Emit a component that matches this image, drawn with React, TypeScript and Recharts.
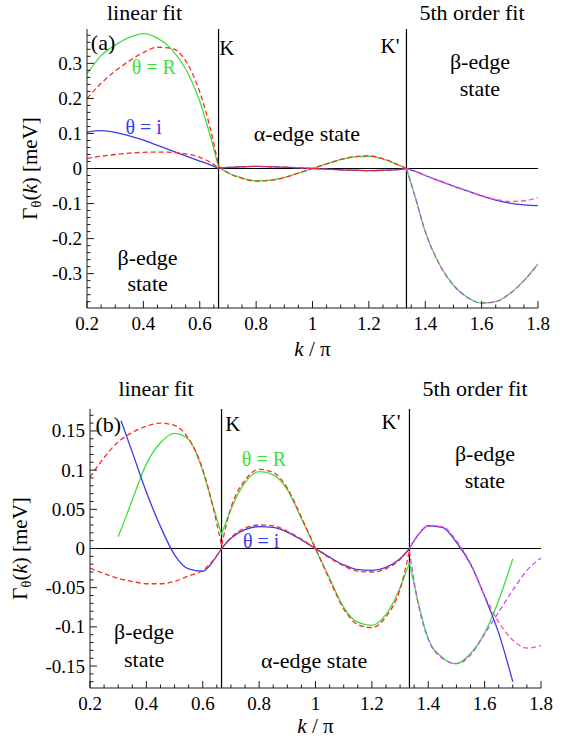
import React from 'react';
import { LineChart, Line, XAxis, YAxis, ReferenceLine, ReferenceDot } from 'recharts';

const FONT = '"Liberation Serif", "Times New Roman", "DejaVu Serif", serif';
const GREEN = '#3fe03f';
const BLUE = '#3b3bea';
const RED = '#ff2b2b';
const VIOLET = '#c84cf5';
const PINK = '#ff4fc4';
const FRAME = '#1a1a1a';

const K_POS = 2 / 3;
const KP_POS = 4 / 3;
const K_PT = 0.6667;
const KP_PT = 1.3333;

// tick labels
const xMajorTicks = [0.2, 0.4, 0.6, 0.8, 1, 1.2, 1.4, 1.6, 1.8];
const xMinorStep = 0.05;
const aYMajorTicks = [-0.3, -0.2, -0.1, 0, 0.1, 0.2, 0.3];
const aYMinorStep = 0.02;
const aYDomain: [number, number] = [-0.398, 0.398];
const bYMajorTicks = [-0.15, -0.1, -0.05, 0, 0.05, 0.1, 0.15];
const bYMinorStep = 0.01;
const bYDomain: [number, number] = [-0.178, 0.178];

// panel (a)
const kA = [0.2, 0.25, 0.3, 0.35, 0.4, 0.45, 0.5, 0.55, 0.6, 0.635, 0.6667, 0.7, 0.75, 0.8, 0.85, 0.9, 0.95, 1.0, 1.05, 1.1, 1.15, 1.2, 1.25, 1.3, 1.3333, 1.365, 1.4, 1.45, 1.5, 1.55, 1.6, 1.65, 1.7, 1.75, 1.8];
const aExactR = [0.270, 0.322, 0.352, 0.374, 0.385, 0.372, 0.340, 0.284, 0.192, 0.100, 0.004, -0.012, -0.027, -0.035, -0.033, -0.025, -0.013, 0, 0.013, 0.025, 0.033, 0.035, 0.027, 0.012, 0, -0.083, -0.180, -0.273, -0.333, -0.368, -0.384, -0.380, -0.357, -0.320, -0.272];
const aFitR = [0.200, 0.243, 0.278, 0.307, 0.331, 0.346, 0.343, 0.307, 0.218, 0.122, 0.008, -0.012, -0.028, -0.036, -0.034, -0.026, -0.013, 0, 0.013, 0.026, 0.034, 0.036, 0.028, 0.012, 0, -0.083, -0.180, -0.273, -0.333, -0.368, -0.384, -0.380, -0.357, -0.320, -0.273];
const aExactI = [0.104, 0.108, 0.103, 0.093, 0.081, 0.066, 0.051, 0.036, 0.021, 0.011, 0, 0.003, 0.005, 0.006, 0.005, 0.004, 0.002, 0, -0.002, -0.004, -0.005, -0.006, -0.005, -0.003, 0, -0.008, -0.020, -0.035, -0.050, -0.064, -0.078, -0.090, -0.099, -0.104, -0.106];
const aFitI = [0.029, 0.035, 0.040, 0.044, 0.046, 0.047, 0.046, 0.042, 0.032, 0.019, 0.002, 0.003, 0.005, 0.006, 0.005, 0.004, 0.002, 0, -0.002, -0.004, -0.005, -0.006, -0.005, -0.003, 0, -0.008, -0.020, -0.035, -0.050, -0.064, -0.077, -0.088, -0.094, -0.092, -0.084];

// panel (b)
const kB = [0.2, 0.25, 0.3, 0.31, 0.35, 0.4, 0.45, 0.5, 0.55, 0.6, 0.635, 0.6667, 0.7, 0.75, 0.8, 0.85, 0.9, 0.95, 1.0, 1.05, 1.1, 1.15, 1.2, 1.25, 1.3, 1.3333, 1.365, 1.4, 1.45, 1.5, 1.55, 1.6, 1.65, 1.7, 1.75, 1.8];
const bExactR = [null, null, 0.015, 0.024, 0.062, 0.108, 0.135, 0.147, 0.139, 0.099, 0.056, 0.018, 0.050, 0.084, 0.098, 0.094, 0.075, 0.038, 0, -0.038, -0.075, -0.094, -0.098, -0.084, -0.050, -0.018, -0.070, -0.115, -0.139, -0.147, -0.134, -0.108, -0.066, -0.013, null, null];
const bFitR = [0.091, 0.116, 0.136, 0.139, 0.148, 0.156, 0.160, 0.157, 0.140, 0.101, 0.055, 0.004, 0.052, 0.087, 0.101, 0.097, 0.077, 0.040, 0, -0.040, -0.077, -0.097, -0.101, -0.087, -0.052, -0.003, -0.072, -0.116, -0.140, -0.147, -0.136, -0.109, -0.081, -0.053, -0.028, -0.012];
const bExactI = [null, null, null, 0.163, 0.123, 0.072, 0.028, -0.008, -0.026, -0.029, -0.017, 0, 0.013, 0.024, 0.028, 0.027, 0.021, 0.011, 0, -0.011, -0.021, -0.027, -0.028, -0.024, -0.013, 0, 0.018, 0.029, 0.027, 0.008, -0.020, -0.061, -0.108, -0.170, null, null];
const bFitI = [-0.025, -0.032, -0.038, -0.039, -0.042, -0.045, -0.045, -0.042, -0.035, -0.028, -0.016, 0, 0.014, 0.026, 0.030, 0.029, 0.022, 0.012, 0, -0.012, -0.022, -0.029, -0.030, -0.026, -0.014, 0, 0.017, 0.029, 0.028, 0.010, -0.019, -0.060, -0.094, -0.117, -0.127, -0.124];

type Series = (number | null)[];
type Note = { k: number; v: number; text: string; color: string; size: number };

const notesA: Note[] = [
  { k: 0.404, v: 0.446, text: 'linear fit', color: '#000', size: 22 },
  { k: 1.566, v: 0.446, text: '5th order fit', color: '#000', size: 22 },
  { k: 0.257, v: 0.361, text: '(a)', color: '#000', size: 22 },
  { k: 0.696, v: 0.346, text: 'K', color: '#000', size: 21 },
  { k: 1.275, v: 0.352, text: "K'", color: '#000', size: 21 },
  { k: 0.437, v: 0.289, text: 'θ = R', color: GREEN, size: 20 },
  { k: 0.401, v: 0.118, text: 'θ = i', color: BLUE, size: 20 },
  { k: 0.98, v: 0.1, text: 'α-edge state', color: '#000', size: 22 },
  { k: 1.594, v: 0.305, text: 'β-edge', color: '#000', size: 22 },
  { k: 1.594, v: 0.229, text: 'state', color: '#000', size: 22 },
  { k: 0.415, v: -0.252, text: 'β-edge', color: '#000', size: 22 },
  { k: 0.415, v: -0.328, text: 'state', color: '#000', size: 22 },
];

const notesB: Note[] = [
  { k: 0.434, v: 0.204, text: 'linear fit', color: '#000', size: 22 },
  { k: 1.566, v: 0.204, text: '5th order fit', color: '#000', size: 22 },
  { k: 0.265, v: 0.159, text: '(b)', color: '#000', size: 22 },
  { k: 0.707, v: 0.16, text: 'K', color: '#000', size: 21 },
  { k: 1.268, v: 0.162, text: "K'", color: '#000', size: 21 },
  { k: 0.817, v: 0.114, text: 'θ = R', color: GREEN, size: 20 },
  { k: 0.807, v: 0.01, text: 'θ = i', color: BLUE, size: 20 },
  { k: 1.601, v: 0.121, text: 'β-edge', color: '#000', size: 22 },
  { k: 1.601, v: 0.087, text: 'state', color: '#000', size: 22 },
  { k: 0.995, v: -0.143, text: 'α-edge state', color: '#000', size: 22 },
  { k: 0.392, v: -0.105, text: 'β-edge', color: '#000', size: 22 },
  { k: 0.392, v: -0.141, text: 'state', color: '#000', size: 22 },
];

function seg(ks: number[], vs: Series, from: number, to: number) {
  const out: { k: number; v: number }[] = [];
  for (let i = 0; i < ks.length; i++) {
    const v = vs[i];
    if (v !== null && v !== undefined && ks[i] >= from - 1e-9 && ks[i] <= to + 1e-9) out.push({ k: ks[i], v });
  }
  return out;
}

function makeTicks(lo: number, hi: number, step: number): number[] {
  const out: number[] = [];
  const i0 = Math.ceil(lo / step - 1e-6);
  const i1 = Math.floor(hi / step + 1e-6);
  for (let i = i0; i <= i1; i++) out.push(Number((i * step).toFixed(4)));
  return out;
}

const fmt = (v: number) => String(Number(v.toFixed(3)));
const textStyle = { fontFamily: FONT };

function tickFn(side: 'bottom' | 'top' | 'left' | 'right', majors: number[], labelled: boolean) {
  return (props: any) => {
    const { x, y, payload } = props;
    const v: number = payload.value;
    const major = majors.some((m) => Math.abs(m - v) < 1e-6);
    const len = major ? 7 : 3.5;
    let x2 = x;
    let y2 = y;
    if (side === 'bottom') y2 = y - len;
    else if (side === 'top') y2 = y + len;
    else if (side === 'left') x2 = x + len;
    else x2 = x - len;
    let text: any = null;
    if (labelled && major) {
      if (side === 'bottom')
        text = (
          <text x={x} y={y + 22} textAnchor="middle" style={{ ...textStyle, fontSize: 19 }} fill="#000">
            {fmt(v)}
          </text>
        );
      else if (side === 'left')
        text = (
          <text x={x - 5} y={y + 6.5} textAnchor="end" style={{ ...textStyle, fontSize: 19 }} fill="#000">
            {fmt(v)}
          </text>
        );
    }
    return (
      <g>
        <line x1={x} y1={y} x2={x2} y2={y2} stroke={FRAME} strokeWidth={1} />
        {text}
      </g>
    );
  };
}

const yLabel = (x0: number) => (p: any) => {
  const vb = p.viewBox || {};
  const cx = (vb.x || 0) + x0;
  const cy = vb.y + vb.height / 2;
  return (
    <text x={cx} y={cy} dy={7} transform={`rotate(-90 ${cx} ${cy})`} textAnchor="middle" style={{ ...textStyle, fontSize: 21 }} fill="#000">
      Γ<tspan style={{ fontSize: 15 }} dy={4}>θ</tspan>
      <tspan dy={-4}>(</tspan>
      <tspan style={{ fontStyle: 'italic' }}>k</tspan>
      <tspan>{') [meV]'}</tspan>
    </text>
  );
};

const xLabel = (dy: number) => (p: any) => {
  const vb = p.viewBox || {};
  const cx = vb.x + vb.width / 2;
  return (
    <text x={cx} y={vb.y + dy} textAnchor="middle" style={{ ...textStyle, fontSize: 21 }} fill="#000">
      <tspan style={{ fontStyle: 'italic' }}>k</tspan>
      <tspan>{' / π'}</tspan>
    </text>
  );
};

type PanelCfg = {
  id: string;
  height: number;
  top: number;
  right: number;
  yWidth: number;
  xHeight: number;
  yDomain: [number, number];
  yMajors: number[];
  yMinorStep: number;
  ks: number[];
  exactR: Series;
  fitR: Series;
  exactI: Series;
  fitI: Series;
  notes: Note[];
  yLabelX: number;
  xLabelDy: number;
};

function renderLines(c: PanelCfg) {
  const parts: [number, number][] = [
    [0.2, K_PT],
    [K_PT, KP_PT],
    [KP_PT, 1.8],
  ];
  const els: any[] = [];
  const common = { dataKey: 'v', type: 'monotone' as const, dot: false, activeDot: false, isAnimationActive: false, strokeWidth: 1.3 };
  parts.forEach(([a, b], j) => {
    const g = seg(c.ks, c.exactR, a, b);
    if (g.length > 1) els.push(<Line key={`${c.id}gR${j}`} data={g} stroke={GREEN} {...common} />);
    const bl = seg(c.ks, c.exactI, a, b);
    if (bl.length > 1) els.push(<Line key={`${c.id}gI${j}`} data={bl} stroke={BLUE} {...common} />);
  });
  parts.forEach(([a, b], j) => {
    const fr = seg(c.ks, c.fitR, a, b);
    els.push(<Line key={`${c.id}fR${j}`} data={fr} stroke={j < 2 ? RED : VIOLET} strokeDasharray="5 3" {...common} />);
    const fi = seg(c.ks, c.fitI, a, b);
    els.push(<Line key={`${c.id}fI${j}`} data={fi} stroke={j < 2 ? RED : PINK} strokeDasharray="5 3" {...common} />);
  });
  return els;
}

function renderPanel(c: PanelCfg) {
  const xTicks = makeTicks(0.2, 1.8, xMinorStep);
  const yTicks = makeTicks(c.yDomain[0], c.yDomain[1], c.yMinorStep);
  const axisLine = { stroke: FRAME, strokeWidth: 1 };
  return (
    <LineChart width={572} height={c.height} margin={{ top: c.top, right: c.right, bottom: 0, left: 0 }} style={{ fontFamily: FONT }}>
      <XAxis
        xAxisId={0}
        dataKey="k"
        type="number"
        domain={[0.2, 1.8]}
        allowDataOverflow
        ticks={xTicks}
        interval={0}
        tickSize={0}
        tickMargin={0}
        tickLine={false}
        axisLine={axisLine}
        tick={tickFn('bottom', xMajorTicks, true)}
        height={c.xHeight}
        label={xLabel(c.xLabelDy)}
      />
      <XAxis
        xAxisId="top"
        orientation="top"
        dataKey="k"
        type="number"
        domain={[0.2, 1.8]}
        allowDataOverflow
        ticks={xTicks}
        interval={0}
        tickSize={0}
        tickMargin={0}
        tickLine={false}
        axisLine={axisLine}
        tick={tickFn('top', xMajorTicks, false)}
        height={0}
      />
      <YAxis
        yAxisId={0}
        type="number"
        domain={c.yDomain}
        allowDataOverflow
        ticks={yTicks}
        interval={0}
        tickSize={0}
        tickMargin={0}
        tickLine={false}
        axisLine={axisLine}
        tick={tickFn('left', c.yMajors, true)}
        width={c.yWidth}
        label={yLabel(c.yLabelX)}
      />
      <YAxis
        yAxisId="right"
        orientation="right"
        type="number"
        domain={c.yDomain}
        allowDataOverflow
        ticks={yTicks}
        interval={0}
        tickSize={0}
        tickMargin={0}
        tickLine={false}
        axisLine={axisLine}
        tick={tickFn('right', c.yMajors, false)}
        width={0}
      />
      <ReferenceLine x={K_POS} stroke="#000" strokeWidth={1.2} />
      <ReferenceLine x={KP_POS} stroke="#000" strokeWidth={1.2} />
      <ReferenceLine y={0} stroke="#000" strokeWidth={1.2} />
      {renderLines(c)}
      {c.notes.map((n, i) => (
        <ReferenceDot
          key={`${c.id}n${i}`}
          x={n.k}
          y={n.v}
          r={1}
          fill="none"
          stroke="none"
          ifOverflow="visible"
          label={{ value: n.text, position: 'center', fill: n.color, fontSize: n.size, fontFamily: FONT, style: { fontFamily: FONT, fontSize: n.size } }}
        />
      ))}
    </LineChart>
  );
}

const panelA: PanelCfg = {
  id: 'a',
  height: 370,
  top: 29,
  right: 34,
  yWidth: 87,
  xHeight: 62,
  yDomain: aYDomain,
  yMajors: aYMajorTicks,
  yMinorStep: aYMinorStep,
  ks: kA,
  exactR: aExactR,
  fitR: aFitR,
  exactI: aExactI,
  fitI: aFitI,
  notes: notesA,
  yLabelX: 30,
  xLabelDy: 48,
};

const panelB: PanelCfg = {
  id: 'b',
  height: 373,
  top: 39,
  right: 31,
  yWidth: 90,
  xHeight: 55,
  yDomain: bYDomain,
  yMajors: bYMajorTicks,
  yMinorStep: bYMinorStep,
  ks: kB,
  exactR: bExactR,
  fitR: bFitR,
  exactI: bExactI,
  fitI: bFitI,
  notes: notesB,
  yLabelX: 20,
  xLabelDy: 45,
};

export default function App() {
  return (
    <div style={{ position: 'absolute', left: 0, top: 0, width: 572, background: '#fff', fontFamily: FONT }}>
      {renderPanel(panelA)}
      {renderPanel(panelB)}
    </div>
  );
}
